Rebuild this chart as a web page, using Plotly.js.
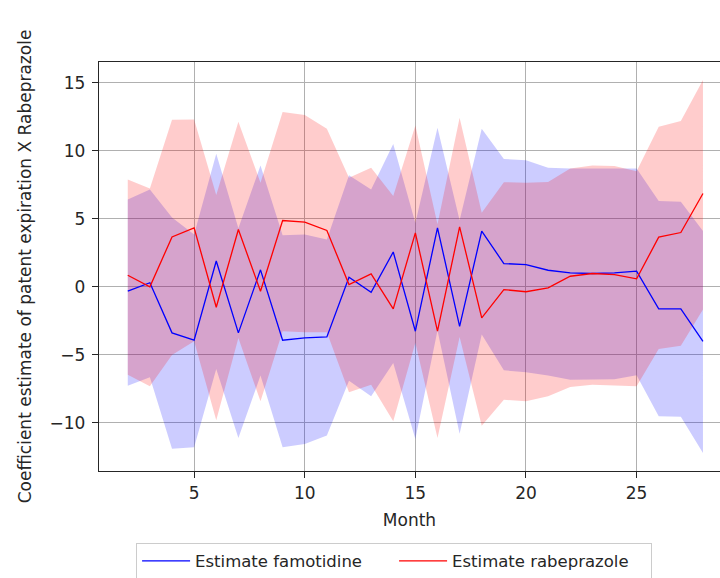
<!DOCTYPE html>
<html>
<head>
<meta charset="utf-8">
<script src="https://cdn.plot.ly/plotly-3.0.1.min.js"></script>
<style>
html,body{margin:0;padding:0;background:#fff;overflow:hidden;}
#chart{width:720px;height:578px;}
</style>
</head>
<body>
<div id="chart"></div>
<script>
const months = [2,3,4,5,6,7,8,9,10,11,12,13,14,15,16,17,18,19,20,21,22,23,24,25,26,27,28];

const famEstimate = [-0.32,0.3,-3.38,-3.92,1.9,-3.38,1.25,-3.92,-3.75,-3.68,0.71,-0.4,2.56,-3.26,4.34,-2.9,4.09,1.71,1.64,1.22,1.03,0.98,1.03,1.15,-1.62,-1.62,-4.0];
const famUpper = [6.42,7.15,5.1,3.85,9.78,4.3,8.92,3.8,3.85,3.48,8.2,7.15,10.5,4.7,11.69,4.9,11.62,9.4,9.3,8.75,8.7,8.7,8.7,8.7,6.3,6.25,4.1];
const famLower = [-7.26,-6.65,-11.9,-11.79,-6.03,-11.1,-6.52,-11.79,-11.54,-10.93,-6.89,-8.04,-5.59,-11.18,-3.2,-10.79,-3.51,-6.13,-6.28,-6.52,-6.82,-6.82,-6.78,-6.5,-9.5,-9.55,-12.2];

const rabEstimate = [0.85,0.0,3.67,4.34,-1.5,4.21,-0.32,4.87,4.75,4.14,0.17,0.95,-1.62,3.97,-3.26,4.41,-2.28,-0.2,-0.36,-0.08,0.78,0.98,0.9,0.59,3.65,3.99,6.86];
const rabUpper = [7.89,7.23,12.28,12.3,6.74,12.13,7.65,12.84,12.62,11.62,8.01,8.75,6.67,11.86,4.6,12.42,5.44,7.69,7.64,7.7,8.7,8.92,8.87,8.5,11.76,12.18,15.19];
const rabLower = [-6.45,-7.31,-5.0,-4.0,-9.81,-3.75,-8.41,-3.26,-3.34,-3.34,-7.75,-7.19,-9.87,-4.1,-11.1,-3.68,-10.2,-8.3,-8.41,-8.04,-7.35,-7.19,-7.25,-7.31,-4.56,-4.32,-1.67];

const seriesNames = ['Estimate famotidine','Estimate rabeprazole'];
const yTicks = [-10,-5,0,5,10,15];
const xTicks = [5,10,15,20,25];

const FONT = 'DejaVu Sans, sans-serif';
const TXT = '#262626';

const traces = [
  {x: months, y: famLower, mode:'lines', line:{width:0, color:'rgba(0,0,255,0)'}, showlegend:false, hoverinfo:'skip'},
  {x: months, y: famUpper, mode:'lines', line:{width:0, color:'rgba(0,0,255,0)'}, fill:'tonexty', fillcolor:'rgba(0,0,255,0.2)', showlegend:false, hoverinfo:'skip'},
  {x: months, y: rabLower, mode:'lines', line:{width:0, color:'rgba(255,0,0,0)'}, showlegend:false, hoverinfo:'skip'},
  {x: months, y: rabUpper, mode:'lines', line:{width:0, color:'rgba(255,0,0,0)'}, fill:'tonexty', fillcolor:'rgba(255,0,0,0.2)', showlegend:false, hoverinfo:'skip'},
  {x: months, y: famEstimate, mode:'lines', name: seriesNames[0], line:{width:1.3, color:'#0000ff'}},
  {x: months, y: rabEstimate, mode:'lines', name: seriesNames[1], line:{width:1.3, color:'#ff0000'}}
];

const layout = {
  width: 720, height: 578,
  margin: {l: 99, r: 0, t: 62, b: 107},
  paper_bgcolor: '#ffffff',
  plot_bgcolor: '#ffffff',
  font: {family: FONT, size: 17, color: TXT},
  showlegend: true,
  legend: {
    orientation: 'h',
    traceorder: 'normal',
    xref: 'container', yref: 'container',
    x: 0.189, xanchor: 'left',
    y: 0.061, yanchor: 'top',
    bordercolor: '#cccccc', borderwidth: 1,
    bgcolor: '#ffffff',
    font: {family: FONT, size: 16.5, color: TXT},
    itemwidth: 48,
    entrywidth: 194
  },
  xaxis: {
    range: [0.7, 28.77],
    tickvals: xTicks,
    ticktext: xTicks.map(String),
    showgrid: true, gridcolor: '#b0b0b0', gridwidth: 1,
    zeroline: false,
    showline: true, linecolor: '#262626', linewidth: 1.3, mirror: true,
    ticks: 'outside', ticklen: 6, tickcolor: '#262626', tickwidth: 1,
    tickfont: {family: FONT, size: 17, color: TXT},
    title: {text: 'Month', font: {family: FONT, size: 17, color: TXT}, standoff: 12}
  },
  yaxis: {
    range: [-13.53, 16.52],
    tickvals: yTicks,
    ticktext: yTicks.map(v => v < 0 ? '\u2212' + Math.abs(v) : String(v)),
    showgrid: true, gridcolor: '#b0b0b0', gridwidth: 1,
    zeroline: false,
    showline: true, linecolor: '#262626', linewidth: 1.3, mirror: false,
    ticks: 'outside', ticklen: 6, tickcolor: '#262626', tickwidth: 1,
    ticklabelstandoff: 3,
    tickfont: {family: FONT, size: 17, color: TXT},
    title: {text: 'Coefficient estimate of patent expiration X Rabeprazole', font: {family: FONT, size: 17, color: TXT}, standoff: 13}
  }
};

Plotly.newPlot('chart', traces, layout, {displayModeBar: false, staticPlot: true});
</script>
</body>
</html>
